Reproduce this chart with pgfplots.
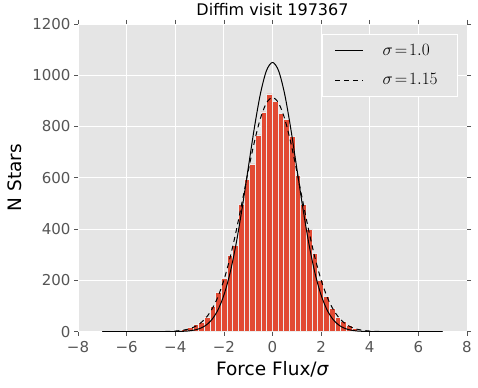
\documentclass[border=0pt]{standalone}
\usepackage{pgfplots}
\pgfplotsset{compat=1.18}
\usepackage{fontspec}
\setmainfont{DejaVu Sans}
\definecolor{bg}{HTML}{E5E5E5}
\definecolor{barc}{HTML}{E24A33}
\definecolor{edgec}{HTML}{EEEEEE}
\definecolor{tickc}{HTML}{555555}
\begin{document}
\begin{tikzpicture}
\begin{axis}[
 scale only axis, width=389pt, height=307.6pt,
 xmin=-8, xmax=8, ymin=0, ymax=1200,
 xtick={-8,-6,...,8}, xticklabels={−8,−6,−4,−2,0,2,4,6,8},
 ytick={0,200,...,1200},
 /pgf/number format/assume math mode=true,
 /pgf/number format/1000 sep={},
 axis background/.style={fill=bg},
 axis line style={draw=none},
 grid=major, major grid style={white, line width=0.8pt},
 tick align=outside, tick pos=both, major tick length=4pt,
 tick style={tickc, line width=0.6pt},
 tick label style={font=\fontsize{15}{18}\selectfont, text=tickc},
 xticklabel style={yshift=-2pt},
 xlabel={Force Flux/\textit{σ}}, ylabel={N Stars},
 label style={font=\fontsize{18.5}{22}\selectfont},
 title={Diffim visit 197367},
 title style={font=\fontsize{16}{19}\selectfont, at={(axis description cs:0.5,1.0065)}, anchor=base},
 xlabel style={at={(axis description cs:0.5,-0.1443)}, anchor=base},
 ylabel style={at={(axis description cs:-0.162,0.5)}, anchor=center},
 legend style={at={(rel axis cs:0.977,0.9675)}, anchor=north east, fill=bg, draw=white, line width=0.8pt,
   font=\fontsize{19}{22}\selectfont, nodes={inner sep=0pt}, inner xsep=12pt, inner ysep=10.25pt, row sep=16.5pt,
   /tikz/every odd column/.append style={column sep=19pt}},
 legend cell align=left,
 legend image code/.code={\draw[#1] (0pt,0pt) -- (28pt,0pt);},
]
\addplot[ybar interval, fill=barc, draw=edgec, line width=0.8pt, forget plot] coordinates {
(-4.2,2) (-3.96667,4) (-3.73333,10) (-3.5,15) (-3.26667,29) (-3.03333,34) (-2.8,57) (-2.56667,98)
(-2.33333,151) (-2.1,209) (-1.86667,296) (-1.63333,335) (-1.4,497) (-1.16667,594) (-0.93333,654)
(-0.7,767) (-0.46667,857) (-0.23333,927) (0,897) (0.23333,851) (0.46667,827) (0.7,760) (0.93333,608)
(1.16667,495) (1.4,398) (1.63333,304) (1.86667,201) (2.1,138) (2.33333,89) (2.56667,54) (2.8,38)
(3.03333,24) (3.26667,14) (3.5,6) (3.73333,2) (3.96667,1) (4.2,0)
};
\addplot[black, line width=1pt, smooth, mark=none] coordinates {
(-7,0) (-6,0) (-5,0) (-4.5,0.04) (-4.25,0.13) (-4,0.35) (-3.75,0.93) (-3.5,2.30) (-3.25,5.34)
(-3,11.66) (-2.75,23.9) (-2.5,46.1) (-2.25,83.5) (-2,142.1) (-1.75,227.1) (-1.5,340.9) (-1.25,480.7)
(-1,636.9) (-0.75,792.6) (-0.5,926.6) (-0.25,1017.7) (0,1050) (0.25,1017.7) (0.5,926.6) (0.75,792.6)
(1,636.9) (1.25,480.7) (1.5,340.9) (1.75,227.1) (2,142.1) (2.25,83.5) (2.5,46.1) (2.75,23.9)
(3,11.66) (3.25,5.34) (3.5,2.30) (3.75,0.93) (4,0.35) (4.25,0.13) (4.5,0.04) (5,0) (6,0) (7,0)
};
\addlegendentry{$\sigma\mkern2mu{=}\mkern2mu1.0$}
\addplot[black, line width=1pt, dash pattern=on 5pt off 4pt, smooth, mark=none] coordinates {
(-7,0) (-6,0.003) (-5.5,0.01) (-5,0.07) (-4.75,0.18) (-4.5,0.43) (-4.25,0.99) (-4,2.15) (-3.75,4.48)
(-3.5,8.9) (-3.25,16.8) (-3,30.4) (-2.75,52.3) (-2.5,85.9) (-2.25,134.6) (-2,201.2) (-1.75,286.8)
(-1.5,390.0) (-1.25,505.7) (-1,625.6) (-0.75,738.1) (-0.5,830.7) (-0.25,891.7) (0,913) (0.25,891.7)
(0.5,830.7) (0.75,738.1) (1,625.6) (1.25,505.7) (1.5,390.0) (1.75,286.8) (2,201.2) (2.25,134.6)
(2.5,85.9) (2.75,52.3) (3,30.4) (3.25,16.8) (3.5,8.9) (3.75,4.48) (4,2.15) (4.25,0.99) (4.5,0.43)
(4.75,0.18) (5,0.07) (5.5,0.01) (6,0.003) (7,0)
};
\addlegendentry{$\sigma\mkern2mu{=}\mkern2mu1.15$\rule{8pt}{0pt}}
\end{axis}
\pgfresetboundingbox
\path ([xshift=-78pt,yshift=-55.4pt]current axis.south west) rectangle ([xshift=11pt,yshift=24pt]current axis.north east);
\end{tikzpicture}
\end{document}
